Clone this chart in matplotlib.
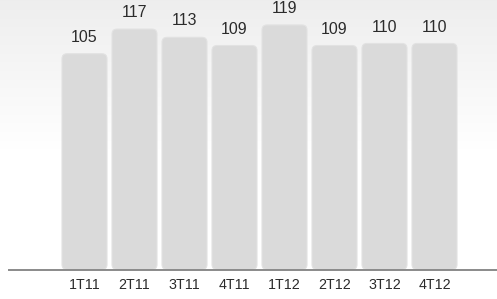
import numpy as np
import matplotlib
matplotlib.use("Agg")
import matplotlib.pyplot as plt
from matplotlib.patches import FancyBboxPatch

categories = ["1T11", "2T11", "3T11", "4T11", "1T12", "2T12", "3T12", "4T12"]
values = [105, 117, 113, 109, 119, 109, 110, 110]

plt.rcParams['font.family'] = ['Liberation Sans', 'DejaVu Sans']

W, H = 497, 299
fig = plt.figure(figsize=(W / 100, H / 100), dpi=100)

# background gradient
bg = fig.add_axes([0, 0, 1, 1])
bg.set_axis_off()
rows = np.linspace(0, 1, H)
grad = np.clip(rows / 0.5, 0, 1)  # 0 at top -> 1 at ~150px
top_c, bot_c = 0.933, 1.0
col = top_c + (bot_c - top_c) * grad
img = np.repeat(col[:, None], 2, axis=1)
bg.imshow(np.dstack([img, img, img]), aspect='auto', extent=[0, 1, 0, 1],
          interpolation='bilinear')
bg.set_xlim(0, 1); bg.set_ylim(0, 1)

ax = fig.add_axes([0, 0, 1, 1])
ax.patch.set_alpha(0)
px_unit = 50.0
py_unit = 2.055
x0 = 84.5
base = H - 269.5
ax.set_xlim(-x0 / px_unit, (W - x0) / px_unit)
ax.set_ylim(-base / py_unit, (H - base) / py_unit)

x = np.arange(len(categories))
bars = ax.bar(x, values, width=45 / px_unit, color='none')
r_px = 5.0
for b in bars:
    bx, by = b.get_x(), b.get_y()
    bw, bh = b.get_width(), b.get_height()
    p = FancyBboxPatch((bx, by), bw, bh,
                       boxstyle=f"round,pad=0,rounding_size={r_px / px_unit}",
                       mutation_aspect=px_unit / py_unit,
                       facecolor='#dadada', edgecolor='#e2e2e2', linewidth=0.8)
    ax.add_patch(p)
    b.remove()

for xi, v in zip(x, values):
    ax.annotate(str(v), (xi, v), xytext=(0, 8.6), textcoords='offset points',
                ha='center', va='baseline', fontsize=11.5, color='#2b2b2b')

for xi, c in zip(x, categories):
    ax.annotate(c, (xi, 0), xytext=(0, -14.3), textcoords='offset points',
                ha='center', va='baseline', fontsize=10.3, color='#2b2b2b')

ax.axhline(0, xmin=9 / W, xmax=1, color='#8a8a8a', lw=1.4)

ax.set_xticks([])
ax.set_yticks([])
for s in ax.spines.values():
    s.set_visible(False)

fig.savefig("out.png", dpi=100)
